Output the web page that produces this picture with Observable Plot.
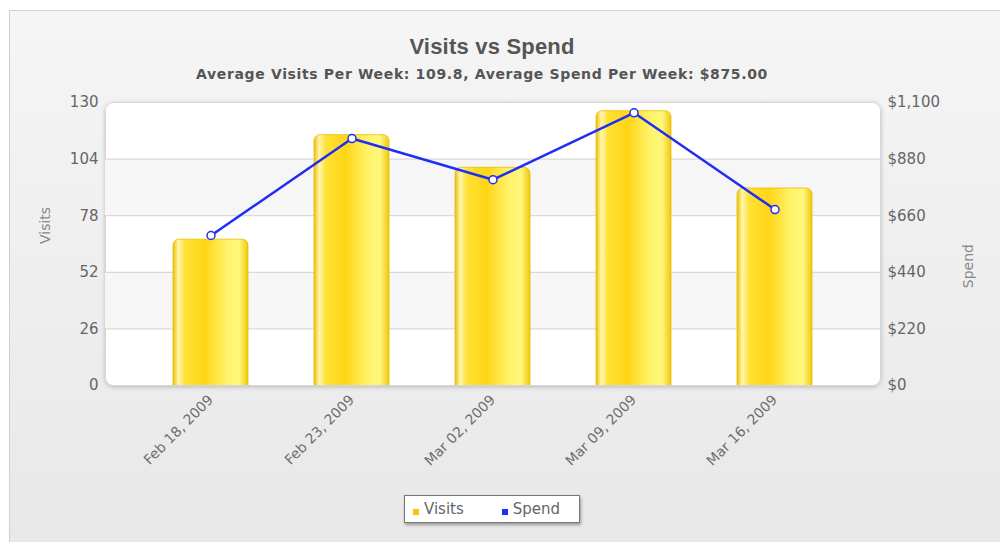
<!DOCTYPE html>
<html>
<head>
<meta charset="utf-8">
<script src="https://cdn.jsdelivr.net/npm/d3@7"></script>
<script src="https://cdn.jsdelivr.net/npm/@observablehq/plot@0.6"></script>
<style>
  html, body { margin: 0; padding: 0; background: #fff; }
  #wrap { position: relative; width: 1000px; height: 542px; overflow: hidden; background: #fff; font-family: "DejaVu Sans", Verdana, sans-serif; }
  #panel { position: absolute; left: 9px; top: 10px; width: 991px; height: 532px;
    background: linear-gradient(#f5f5f5, #e8e8e8); border-left: 1px solid #cfcfcf; border-top: 1px solid #d4d4d4; box-sizing: border-box; }
  #chart { position: absolute; left: 0; top: 0; }
  .title { position: absolute; left: 0; width: 984px; text-align: center; color: #555; font-weight: bold; }
  #t1 { top: 34px; font-size: 22px; font-family: "Liberation Sans", Arial, sans-serif; letter-spacing: 0.2px; }
  #t2 { top: 66px; left: -10px; font-size: 14px; letter-spacing: 0.65px; }
  #legend { position: absolute; left: 404px; top: 495px; width: 176px; height: 28px; box-sizing: border-box;
    background: #fff; border: 1px solid #777; box-shadow: 1px 2px 3px rgba(0,0,0,0.35);
    font-size: 15px; color: #666; display: flex; align-items: center; }
  .sw { display: inline-block; width: 6px; height: 6px; margin-right: 5px; margin-top: 5px; }
  .item { display: flex; align-items: center; }
</style>
</head>
<body>
<div id="wrap">
  <div id="panel"></div>
  <div id="chart"></div>
  <div class="title" id="t1">Visits vs Spend</div>
  <div class="title" id="t2">Average Visits Per Week: 109.8, Average Spend Per Week: $875.00</div>
  <div id="legend"></div>
</div>
<script>
// ---- data ----
const dates = ["Feb 18, 2009", "Feb 23, 2009", "Mar 02, 2009", "Mar 09, 2009", "Mar 16, 2009"];
const visits = [67, 115, 100, 126, 90.5];
const spend = [583, 960, 800, 1060, 684];
const visitTicks = [0, 26, 52, 78, 104, 130];
const spendTicks = [0, 220, 440, 660, 880, 1100];
const seriesNames = ["Visits", "Spend"];
const seriesColors = ["#f7c600", "#1f2ef5"];

const visitMax = visitTicks[visitTicks.length - 1];
const spendMax = spendTicks[spendTicks.length - 1];
const toVisitScale = v => v * visitMax / spendMax;

const data = dates.map((d, i) => ({date: d, visits: visits[i], spend: spend[i], spendY: toVisitScale(spend[i])}));
const bands = [];
for (let i = 0; i < visitTicks.length - 1; i++) {
  if (i % 2 === 1) bands.push({y1: visitTicks[i], y2: visitTicks[i + 1]});
}

const font = "DejaVu Sans, Verdana, sans-serif";

const plot = Plot.plot({
  width: 1000,
  height: 542,
  marginTop: 102,
  marginBottom: 157,
  marginLeft: 105,
  marginRight: 120,
  style: {background: "transparent", color: "#666", fontFamily: font, fontSize: "15px"},
  x: {type: "band", domain: dates, padding: 0.465, axis: null},
  y: {domain: [0, visitMax], axis: null},
  marks: [
    Plot.frame({fill: "white", stroke: "#d6d6d6", rx: 8}),
    Plot.rectY(bands, {y1: "y1", y2: "y2", fill: "#f6f6f6"}),
    Plot.ruleY(visitTicks.slice(1, -1), {stroke: "#d2d2d2", strokeWidth: 1}),
    Plot.barY(data, {x: "date", y: "visits", fill: "url(#barGrad)", stroke: "#e9be00", strokeWidth: 0.8, rx: 6, insetBottom: -12, clip: true}),
    Plot.line(data, {x: "date", y: "spendY", stroke: seriesColors[1], strokeWidth: 2.5}),
    Plot.dot(data, {x: "date", y: "spendY", r: 4, fill: "white", stroke: seriesColors[1], strokeWidth: 1.5}),
    Plot.axisY(visitTicks, {anchor: "left", tickSize: 0, tickPadding: 7, fontSize: 15, label: null}),
    Plot.axisY(spendTicks.map(toVisitScale), {anchor: "right", tickSize: 0, tickPadding: 7, fontSize: 15, label: null,
      tickFormat: d => "$" + d3.format(",")(Math.round(d * spendMax / visitMax))}),
    Plot.axisX(dates, {anchor: "bottom", tickSize: 0, tickPadding: 12, tickRotate: -45, fontSize: 14, fill: "#6e6e6e", label: null}),
    Plot.text(["Visits"], {frameAnchor: "left", dx: -60, rotate: -90, fill: "#888", fontSize: 14}),
    Plot.text(["Spend"], {frameAnchor: "right", dx: 88, rotate: -90, fill: "#888", fontSize: 14})
  ]
});

plot.insertAdjacentHTML("afterbegin", `
<defs>
  <linearGradient id="barGrad" x1="0" x2="1" y1="0" y2="0">
    <stop offset="0" stop-color="#efbd00"/>
    <stop offset="0.07" stop-color="#fff6b0"/>
    <stop offset="0.16" stop-color="#ffe136"/>
    <stop offset="0.42" stop-color="#ffd516"/>
    <stop offset="0.72" stop-color="#fff36a"/>
    <stop offset="0.88" stop-color="#fff77c"/>
    <stop offset="1" stop-color="#f0c80c"/>
  </linearGradient>
  <filter id="frameShadow" x="-5%" y="-5%" width="110%" height="110%">
    <feDropShadow dx="0" dy="1" stdDeviation="2" flood-color="#000" flood-opacity="0.22"/>
  </filter>
</defs>`);
d3.select(plot).select('[aria-label="frame"]').attr("filter", "url(#frameShadow)");

document.getElementById("chart").appendChild(plot);

const legend = document.getElementById("legend");
seriesNames.forEach((name, i) => {
  const item = document.createElement("div");
  item.className = "item";
  item.style.marginLeft = i === 0 ? "8px" : "38px";
  const sw = document.createElement("span");
  sw.className = "sw";
  sw.style.background = seriesColors[i];
  const tx = document.createElement("span");
  tx.textContent = name;
  item.appendChild(sw);
  item.appendChild(tx);
  legend.appendChild(item);
});
</script>
</body>
</html>
